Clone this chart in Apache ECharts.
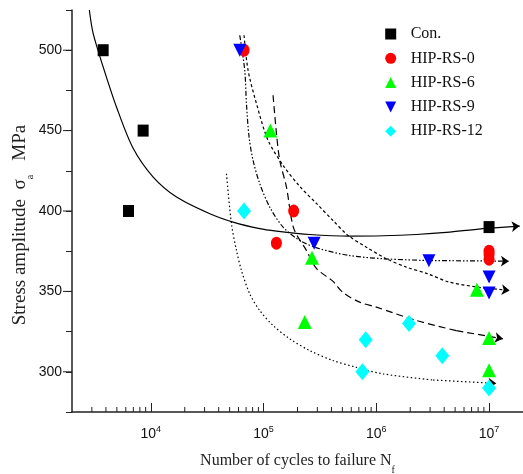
<!DOCTYPE html>
<html><head><meta charset="utf-8">
<script src="https://cdn.jsdelivr.net/npm/echarts@6/dist/echarts.min.js"></script>
<style>html,body{margin:0;padding:0;background:#fff}#c{width:523px;height:474px}</style>
</head><body><div id="c"></div>
<script>
// ---- axis ranges & ticks ----
const xMin = 2000, xMax = 2e7;
const yMin = 275, yMax = 525, yStep = 25;
const yLabelTicks = [300, 350, 400, 450, 500];
const xMinorTicks = [3000,4000,5000,6000,7000,8000,9000,
  20000,30000,40000,50000,60000,70000,80000,90000,
  200000,300000,400000,500000,600000,700000,800000,900000,
  2e6,3e6,4e6,5e6,6e6,7e6,8e6,9e6];

// ---- scatter data ----
const conN  = [3780, 8550, 6340, 1e7];
const conS  = [500, 450, 400, 390];
const rs0N  = [67100, 185000, 130000, 1e7, 1e7, 1e7];
const rs0S  = [500, 400, 380, 375, 373, 370];
const rs6N  = [115000, 269000, 232000, 7.8e6, 1e7, 1e7];
const rs6S  = [450, 371, 331, 351, 321, 301];
const rs9N  = [61500, 281000, 2.93e6, 1e7, 1e7];
const rs9S  = [500, 380, 369, 359, 349];
const rs12N = [67100, 1.95e6, 805000, 753000, 3.85e6, 1e7];
const rs12S = [400, 330, 320, 300, 310, 290];

// ---- fitted curves ----
const c1N = [2850, 3080, 3780, 4960, 6970, 10500, 16900, 33400, 53700, 92500, 130000, 257000, 581000, 1.15e6, 2.26e6, 4.48e6, 8.84e6, 1.87e7];
const c1S = [525, 510.4, 489.6, 464.7, 439.0, 421.1, 408.7, 398.3, 393.1, 389.0, 387.5, 385.4, 384.4, 384.6, 385.4, 386.9, 389.0, 390.6];
const c2N = [61500, 68100, 70500, 74400, 80700, 92500, 113500, 148900, 209400, 315000, 581000, 1.147e6, 2.873e6, 1.5e7];
const c2S = [509.3, 487.5, 466.8, 446.0, 431.5, 417.0, 402.4, 390.0, 381.7, 376.5, 372.3, 370.3, 369.2, 368.8];
const c3N = [67100, 72900, 86500, 109600, 151100, 209400, 294400, 413100, 561300, 817000, 1.229e6, 1.849e6, 2.873e6, 4.475e6, 8.83e6, 1.523e7];
const c3S = [509.3, 487.5, 466.8, 444.0, 427.8, 415.3, 404.7, 394.1, 384.8, 377.5, 370.3, 365.1, 360.9, 355.7, 352.2, 350.6];
const c4N = [121400, 130200, 139200, 159600, 185200, 240000, 294400, 413100, 506800, 712500, 1.002e6, 2.267e6, 5.13e6, 1.328e7];
const c4S = [472.0, 448.1, 431.5, 414.9, 389.2, 375.5, 364.3, 356.2, 349.3, 343.3, 340.2, 331.9, 325.6, 320.5];
const c5N = [46900, 51900, 57500, 63700, 75400, 92500, 121400, 170700, 256800, 413100, 666000, 1.147e6, 3.183e6, 1.16e7];
const c5S = [423.2, 392.1, 375.5, 363.0, 348.5, 338.1, 328.8, 320.5, 313.2, 307.0, 302.8, 298.7, 294.9, 292.8];

const zip = (a, b) => a.map((v, i) => [v, b[i]]);
const serif = 'Liberation Serif';
const sans = 'Liberation Sans';
const ink = '#111';

function curve(N, S, dash) {
  const pts = zip(N, S);
  const n = pts.length;
  const ls = {color: '#000', width: 1.2, type: dash};
  return {
    type: 'line', data: pts.slice(0, n - 1), smooth: 0.3, symbol: 'none',
    lineStyle: ls, z: 2, silent: true,
    markLine: {
      silent: true, symbol: ['none', 'arrow'], symbolSize: 8, animation: false,
      lineStyle: Object.assign({}, ls), label: {show: false},
      emphasis: {disabled: true},
      data: [[{coord: pts[n - 2]}, {coord: pts[n - 1]}]]
    }
  };
}

function scatter(name, N, S, symbol, size, color, rot) {
  return {
    name, type: 'scatter', data: zip(N, S), symbol, symbolSize: size,
    symbolRotate: rot || 0, itemStyle: {color, opacity: 1}, z: 5
  };
}

const chart = echarts.init(document.getElementById('c'), null, {renderer: 'canvas'});
chart.setOption({
  animation: false,
  backgroundColor: '#fff',
  grid: {left: 72, top: 10, right: 0, bottom: 62, containLabel: false, outerBoundsMode: 'none'},
  legend: {
    orient: 'vertical', left: 380.2, top: 21,
    itemWidth: 11, itemHeight: 11, itemGap: 8.3,
    textStyle: {fontFamily: serif, fontSize: 16, color: ink, lineHeight: 16, padding: [0, 0, 0, 9.5]},
    data: [
      {name: 'Con.'},
      {name: 'HIP-RS-0'},
      {name: 'HIP-RS-6'},
      {name: 'HIP-RS-9', icon: 'path://M0,0L10,0L5,10Z'},
      {name: 'HIP-RS-12'}
    ]
  },
  xAxis: {
    type: 'log', logBase: 10, min: xMin, max: xMax,
    axisLine: {lineStyle: {color: '#222', width: 1.5}},
    axisTick: {inside: true, length: 9, lineStyle: {color: '#222', width: 1}},
    splitLine: {show: false},
    axisLabel: {
      margin: 13, showMinLabel: false, showMaxLabel: false,
      formatter: v => {
        const e = Math.log10(v), r = Math.round(e);
        if (Math.abs(e - r) > 1e-6) return '';
        return '{n|10}{s|' + r + '}';
      },
      rich: {
        n: {fontFamily: sans, fontSize: 14, color: ink, lineHeight: 16, verticalAlign: 'bottom'},
        s: {fontFamily: sans, fontSize: 9, color: ink, lineHeight: 10, verticalAlign: 'top'}
      }
    },
    name: '{n|Number of cycles to failure N}{f|f}',
    nameLocation: 'middle', nameGap: 41,
    nameTextStyle: {
      rich: {
        n: {fontFamily: serif, fontSize: 16, color: '#222', lineHeight: 22, verticalAlign: 'top'},
        f: {fontFamily: serif, fontSize: 10, color: '#222', lineHeight: 10, verticalAlign: 'bottom'}
      }
    }
  },
  yAxis: {
    type: 'value', min: yMin, max: yMax, interval: yStep,
    axisLine: {show: true, lineStyle: {color: '#222', width: 1.5}},
    axisTick: {show: true, inside: false, length: 6, lineStyle: {color: '#222', width: 1}},
    splitLine: {show: false},
    axisLabel: {
      margin: 10, fontFamily: sans, fontSize: 14, color: ink,
      formatter: v => yLabelTicks.indexOf(v) >= 0 ? String(v) : ''
    }
  },
  graphic: [{
    type: 'text', x: 23, y: 225, rotation: Math.PI / 2, silent: true,
    style: {
      text: '{t|Stress amplitude  σ}{s|a}{t|   MPa}',
      align: 'center', verticalAlign: 'middle',
      rich: {
        t: {fontFamily: serif, fontSize: 19, fill: '#222', lineHeight: 24, verticalAlign: 'top'},
        s: {fontFamily: serif, fontSize: 10, fill: '#222', lineHeight: 10, verticalAlign: 'bottom'}
      }
    }
  }],
  series: [
    curve(c1N, c1S, 'solid'),
    curve(c2N, c2S, [5, 2, 1.5, 2, 1.5, 2]),
    curve(c3N, c3S, [3, 2.5]),
    curve(c4N, c4S, [7, 4]),
    curve(c5N, c5S, [1.5, 2.5]),
    scatter('Con.', conN, conS, 'rect', [11, 12], '#000000'),
    scatter('HIP-RS-0', rs0N, rs0S, 'circle', [11, 13], '#ff0000'),
    scatter('HIP-RS-6', rs6N, rs6S, 'triangle', [14, 14], '#00ff00'),
    scatter('HIP-RS-9', rs9N, rs9S, 'triangle', [13, 13], '#0000ff', 180),
    scatter('HIP-RS-12', rs12N, rs12S, 'diamond', [14, 17], '#00ffff'),
    {
      type: 'custom', silent: true, z: 10, clip: false,
      data: xMinorTicks.map(v => [v, yMin]),
      renderItem: (params, api) => {
        const p = api.coord([api.value(0), api.value(1)]);
        return {type: 'line', shape: {x1: p[0], y1: p[1], x2: p[0], y2: p[1] - 5},
                style: {stroke: '#222', lineWidth: 1}};
      }
    },
    {
      type: 'custom', silent: true, z: 10, clip: false,
      data: yLabelTicks.map(v => [xMin, v]),
      renderItem: (params, api) => {
        const p = api.coord([api.value(0), api.value(1)]);
        return {type: 'line', shape: {x1: p[0] - 9, y1: p[1], x2: p[0], y2: p[1]},
                style: {stroke: '#222', lineWidth: 1}};
      }
    }
  ]
});
</script>
</body></html>
